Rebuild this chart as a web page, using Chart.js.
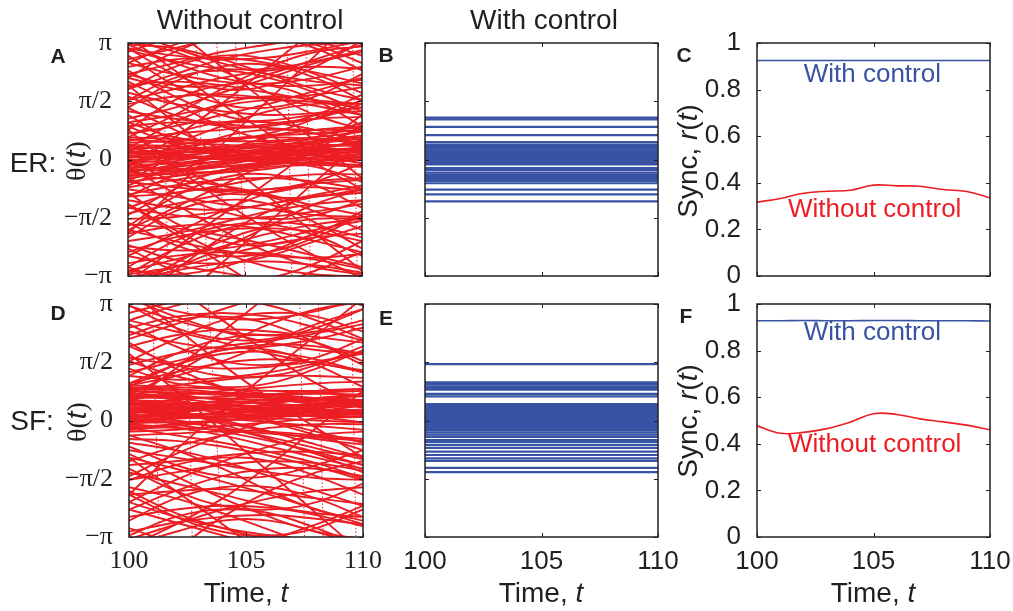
<!DOCTYPE html>
<html>
<head>
<meta charset="utf-8">
<script src="https://cdn.jsdelivr.net/npm/chart.js@4.4.1/dist/chart.umd.min.js"></script>
<style>
  html, body { margin: 0; padding: 0; background: #fff; }
  #wrap { position: relative; width: 1013px; height: 611px; overflow: hidden;
          font-family: "Liberation Sans", Arial, sans-serif; color: #231f20; }
  canvas { position: absolute; left: 0; top: 0; }
  .lbl { position: absolute; white-space: nowrap; line-height: 1; transform: translate(-50%, -50%); }
  .rot { transform: translate(-50%, -50%) rotate(-90deg); }
  .big { font-size: 28px; }
  .panel { font-size: 21px; font-weight: bold; }
  .serif { font-family: "Liberation Serif", "Times New Roman", serif; }
</style>
</head>
<body>
<div id="wrap">
  <canvas id="cA" width="1013" height="611"></canvas>
  <canvas id="cB" width="1013" height="611"></canvas>
  <canvas id="cC" width="1013" height="611"></canvas>
  <canvas id="cD" width="1013" height="611"></canvas>
  <canvas id="cE" width="1013" height="611"></canvas>
  <canvas id="cF" width="1013" height="611"></canvas>

  <div class="lbl big" style="left:250px;top:20px">Without control</div>
  <div class="lbl big" style="left:544px;top:20px">With control</div>

  <div class="lbl panel" style="left:58px;top:55px">A</div>
  <div class="lbl panel" style="left:386px;top:54px">B</div>
  <div class="lbl panel" style="left:684px;top:54px">C</div>
  <div class="lbl panel" style="left:58px;top:312px">D</div>
  <div class="lbl panel" style="left:386px;top:317px">E</div>
  <div class="lbl panel" style="left:686px;top:315px">F</div>

  <div class="lbl big" style="left:33px;top:163px">ER:</div>
  <div class="lbl big" style="left:32px;top:421px">SF:</div>
  <div class="lbl big rot" style="left:76px;top:161px"><span class="serif">θ(</span><i>t</i><span class="serif">)</span></div>
  <div class="lbl big rot" style="left:77px;top:422px"><span class="serif">θ(</span><i>t</i><span class="serif">)</span></div>
  <div class="lbl big rot" style="left:688px;top:161px">Sync, <i>r</i>(<i>t</i>)</div>
  <div class="lbl big rot" style="left:688px;top:421px">Sync, <i>r</i>(<i>t</i>)</div>

  <div class="lbl big" style="left:246px;top:593px">Time, <i>t</i></div>
  <div class="lbl big" style="left:541px;top:593px">Time, <i>t</i></div>
  <div class="lbl big" style="left:873px;top:593px">Time, <i>t</i></div>
</div>

<script>
// sample times of the phase trajectories (A, D) and of the sync curves (C, F)
const phaseT = [100, 102, 104, 106, 108, 110];
const syncT = [100, 101, 102, 103, 104, 105, 106, 107, 108, 109, 110];

// ER network, no control: theta(t) of each oscillator
const erPhases = [
  [-0.10, 0.00, 0.10, 0.20, 0.25, 0.30],
  [0.05, 0.10, 0.20, 0.25, 0.35, 0.40],
  [-0.30, -0.20, -0.05, 0.10, 0.20, 0.25],
  [0.20, 0.25, 0.30, 0.40, 0.45, 0.55],
  [-0.15, -0.10, 0.05, 0.15, 0.10, 0.05],
  [0.10, 0.05, 0.10, 0.20, 0.30, 0.45],
  [-0.45, -0.30, -0.10, 0.05, 0.15, 0.20],
  [0.35, 0.30, 0.35, 0.45, 0.55, 0.60],
  [-0.05, 0.15, 0.30, 0.35, 0.30, 0.20],
  [0.00, -0.10, -0.05, 0.10, 0.30, 0.50],
  [-0.25, -0.05, 0.15, 0.30, 0.40, 0.35],
  [0.15, 0.20, 0.15, 0.05, 0.05, 0.15],
  [-0.60, -0.45, -0.30, -0.10, 0.00, 0.05],
  [0.45, 0.50, 0.55, 0.65, 0.70, 0.80],
  [-0.35, -0.40, -0.30, -0.15, -0.05, 0.00],
  [0.25, 0.40, 0.55, 0.60, 0.55, 0.45],
  [-0.20, -0.25, -0.20, -0.05, 0.15, 0.35],
  [0.60, 0.55, 0.50, 0.50, 0.60, 0.75],
  [-0.75, -0.55, -0.35, -0.20, -0.15, -0.20],
  [0.05, 0.30, 0.50, 0.65, 0.80, 0.90],
  [-0.10, -0.30, -0.35, -0.25, -0.05, 0.10],
  [0.30, 0.15, 0.05, 0.10, 0.25, 0.30],
  [0.10, 0.20, 0.25, 0.35, 0.50, 0.65],
  [-0.50, -0.35, -0.20, -0.10, -0.10, -0.15],
  [0.40, 0.35, 0.25, 0.20, 0.15, 0.20],
  [-0.05, 0.05, 0.05, 0.00, 0.05, 0.15],
  [0.20, 0.10, 0.00, -0.05, 0.05, 0.25],
  [-0.35, -0.15, 0.05, 0.25, 0.45, 0.60],
  [0.55, 0.45, 0.40, 0.30, 0.25, 0.30],
  [-0.25, -0.30, -0.15, 0.05, 0.20, 0.30],
  [1.00, 1.20, 1.45, 1.60, 1.55, 1.40],
  [1.60, 1.90, 2.20, 2.40, 2.50, 2.45],
  [2.30, 2.60, 2.90, 3.10, 3.30, 3.50],
  [3.00, 2.80, 2.70, 2.75, 2.95, 3.20],
  [2.60, 2.30, 2.10, 2.05, 2.20, 2.50],
  [1.30, 1.10, 1.00, 1.05, 1.20, 1.30],
  [0.90, 1.00, 0.95, 0.85, 0.80, 0.85],
  [2.00, 2.10, 2.00, 1.80, 1.60, 1.50],
  [1.80, 1.50, 1.30, 1.20, 1.25, 1.40],
  [2.70, 3.00, 3.30, 3.60, 3.90, 4.20],
  [0.70, 0.90, 1.20, 1.50, 1.85, 2.20],
  [1.10, 1.40, 1.80, 2.20, 2.60, 2.90],
  [2.20, 1.90, 1.70, 1.65, 1.75, 1.95],
  [3.10, 2.60, 2.20, 2.00, 2.00, 2.15],
  [1.50, 1.70, 1.75, 1.65, 1.45, 1.20],
  [2.50, 2.70, 2.75, 2.60, 2.35, 2.05],
  [0.50, 0.70, 0.80, 0.95, 1.10, 1.15],
  [1.90, 2.30, 2.70, 2.95, 3.10, 3.15],
  [2.95, 2.65, 2.45, 2.45, 2.65, 2.95],
  [-1.00, -0.90, -0.70, -0.50, -0.40, -0.40],
  [-1.60, -1.55, -1.40, -1.20, -1.00, -0.90],
  [-2.20, -2.00, -1.70, -1.40, -1.20, -1.10],
  [-1.30, -1.50, -1.60, -1.55, -1.40, -1.20],
  [-2.80, -2.60, -2.50, -2.55, -2.70, -2.95],
  [-0.80, -1.00, -1.20, -1.35, -1.50, -1.55],
  [-2.50, -2.10, -1.90, -1.85, -1.95, -2.20],
  [-3.10, -2.90, -2.60, -2.30, -2.10, -2.00],
  [-1.90, -2.20, -2.45, -2.60, -2.65, -2.55],
  [-0.60, -0.75, -0.85, -0.80, -0.65, -0.55],
  [-1.45, -1.20, -0.95, -0.80, -0.75, -0.85],
  [-2.00, -1.80, -1.75, -1.90, -2.20, -2.50],
  [-2.60, -2.85, -3.05, -3.25, -3.40, -3.50],
  [-1.10, -1.30, -1.35, -1.20, -0.95, -0.70],
  [-3.00, -2.70, -2.35, -2.00, -1.75, -1.60],
  [-0.95, -0.70, -0.55, -0.50, -0.60, -0.80],
  [-2.35, -2.45, -2.40, -2.20, -1.90, -1.65],
  [-1.75, -1.85, -2.05, -2.30, -2.60, -2.90],
  [-0.40, -0.55, -0.70, -0.95, -1.25, -1.50],
  [-3.30, -3.00, -2.80, -2.75, -2.85, -3.05],
  [-3.30, -2.40, -1.50, -0.60, 0.30, 1.20],
  [3.30, 2.40, 1.50, 0.70, -0.10, -0.80],
  [-2.00, -0.80, 0.40, 1.60, 2.80, 4.00],
  [-5.00, -3.90, -2.80, -1.70, -0.60, 0.50],
  [2.00, 1.00, 0.00, -1.00, -2.00, -3.00],
  [-1.20, -2.00, -2.80, -3.60, -4.40, -5.20],
  [0.80, -0.20, -1.10, -1.90, -2.60, -3.20],
  [-3.60, -2.80, -2.20, -1.80, -1.60, -1.60],
  [3.50, 3.00, 2.60, 2.30, 2.10, 2.00],
  [-0.20, 0.60, 1.50, 2.50, 3.50, 4.50],
  [4.50, 3.50, 2.50, 1.50, 0.50, -0.50],
  [-4.00, -3.00, -2.10, -1.40, -1.00, -0.90],
  [1.40, 2.10, 2.50, 2.55, 2.20, 1.60],
  [-1.80, -1.00, -0.50, -0.40, -0.70, -1.30],
  [2.80, 2.00, 1.50, 1.40, 1.70, 2.30],
  [-0.90, -1.70, -2.20, -2.30, -2.00, -1.40],
  [0.30, 1.00, 1.50, 1.70, 1.60, 1.20],
  [-2.90, -2.20, -1.80, -1.75, -2.05, -2.60],
  [2.20, 2.90, 3.30, 3.30, 3.00, 2.40],
  [-0.20, -0.90, -1.40, -1.60, -1.50, -1.10],
  [1.70, 1.20, 0.90, 0.90, 1.20, 1.75],
  [-2.40, -3.00, -3.30, -3.20, -2.80, -2.20],
  [0.80, 1.60, 2.00, 2.00, 1.60, 0.90],
  [-1.50, -0.80, -0.30, -0.10, -0.20, -0.60],
  [3.00, 2.30, 1.90, 2.00, 2.50, 3.20],
  [-0.60, 0.10, 0.60, 0.80, 0.70, 0.30],
  [1.20, 0.50, 0.10, 0.00, 0.30, 0.90],
  [-2.10, -1.40, -1.10, -1.20, -1.70, -2.40],
  [2.40, 1.70, 1.20, 1.00, 1.10, 1.50],
  [-3.10, -2.40, -1.90, -1.70, -1.80, -2.10],
  [0.60, 1.20, 1.90, 2.50, 2.90, 3.05],
  [-1.20, -1.90, -2.50, -2.90, -3.10, -3.15],
  [1.90, 2.50, 2.80, 2.70, 2.30, 1.80],
  [-0.30, 0.40, 0.90, 1.30, 1.50, 1.50],
  [2.60, 3.10, 3.40, 3.40, 3.20, 2.80],
  [-2.60, -2.00, -1.40, -0.90, -0.60, -0.50],
  [0.00, -0.60, -0.90, -0.90, -0.60, -0.10],
  [1.00, 0.60, 0.50, 0.70, 1.10, 1.60],
  [-1.00, -0.40, 0.20, 0.60, 0.80, 0.75],
  [2.10, 1.50, 0.90, 0.50, 0.30, 0.30],
  [-3.20, -2.90, -2.40, -1.80, -1.20, -0.80],
  [3.20, 2.90, 2.40, 1.80, 1.20, 0.80],
  [-1.70, -2.30, -2.60, -2.50, -2.10, -1.50],
  [0.40, -0.20, -0.70, -1.00, -1.00, -0.80],
  [1.60, 2.20, 2.40, 2.20, 1.80, 1.30],
  [-0.70, -0.20, 0.10, 0.20, 0.10, -0.10],
  [2.90, 3.30, 3.50, 3.40, 3.10, 2.60],
  [-2.90, -3.30, -3.50, -3.40, -3.00, -2.50],
  [0.90, 0.40, 0.20, 0.30, 0.60, 1.00],
  [-1.30, -0.90, -0.80, -1.00, -1.40, -1.90],
  [2.30, 2.00, 2.00, 2.30, 2.70, 3.10],
  [-2.30, -2.70, -2.80, -2.60, -2.20, -1.80],
  [0.20, 0.70, 1.00, 1.00, 0.80, 0.50],
  [-0.50, -1.20, -1.90, -2.50, -2.90, -3.10],
  [1.40, 0.80, 0.30, 0.00, -0.10, 0.00],
  [-1.90, -1.30, -0.70, -0.10, 0.40, 0.80],
  [3.10, 3.00, 2.70, 2.30, 1.90, 1.60],
  [-3.00, -3.10, -2.90, -2.50, -2.00, -1.50]
];

// SF network, no control: theta(t)
const sfPhases = [
  [0.60, 0.62, 0.58, 0.55, 0.60, 0.65],
  [0.40, 0.45, 0.50, 0.45, 0.40, 0.42],
  [0.20, 0.25, 0.30, 0.32, 0.30, 0.25],
  [0.00, 0.05, 0.10, 0.15, 0.12, 0.10],
  [-0.20, -0.10, 0.00, 0.05, 0.00, -0.05],
  [0.80, 0.75, 0.70, 0.70, 0.75, 0.80],
  [0.30, 0.20, 0.15, 0.20, 0.35, 0.50],
  [0.10, 0.20, 0.35, 0.40, 0.30, 0.15],
  [0.50, 0.40, 0.30, 0.20, 0.15, 0.10],
  [-0.10, 0.05, 0.25, 0.45, 0.60, 0.70],
  [0.70, 0.60, 0.45, 0.30, 0.20, 0.15],
  [-0.30, -0.25, -0.15, -0.05, 0.05, 0.10],
  [0.15, 0.10, 0.05, -0.05, -0.15, -0.25],
  [0.45, 0.55, 0.65, 0.70, 0.72, 0.70],
  [-0.05, -0.05, 0.00, 0.10, 0.25, 0.40],
  [0.25, 0.35, 0.40, 0.35, 0.25, 0.20],
  [0.55, 0.50, 0.40, 0.35, 0.40, 0.55],
  [0.35, 0.30, 0.30, 0.35, 0.45, 0.55],
  [-0.40, -0.35, -0.30, -0.35, -0.45, -0.55],
  [0.90, 0.85, 0.75, 0.65, 0.55, 0.50],
  [0.05, 0.15, 0.20, 0.25, 0.35, 0.45],
  [0.65, 0.70, 0.80, 0.90, 1.00, 1.05],
  [-0.15, -0.20, -0.25, -0.30, -0.40, -0.50],
  [0.75, 0.65, 0.60, 0.55, 0.50, 0.35],
  [0.20, 0.30, 0.45, 0.55, 0.60, 0.55],
  [-0.25, -0.15, 0.00, 0.15, 0.25, 0.30],
  [0.50, 0.45, 0.35, 0.25, 0.20, 0.25],
  [0.85, 0.80, 0.70, 0.60, 0.60, 0.70],
  [0.10, 0.00, -0.20, -0.45, -0.75, -1.05],
  [0.30, 0.20, 0.00, -0.30, -0.65, -1.00],
  [-0.10, -0.20, -0.40, -0.70, -1.00, -1.30],
  [0.00, -0.05, -0.20, -0.50, -0.90, -1.40],
  [0.40, 0.35, 0.20, -0.05, -0.40, -0.80],
  [-0.50, -0.55, -0.70, -0.95, -1.25, -1.60],
  [1.30, 1.60, 1.90, 2.05, 2.00, 1.80],
  [2.50, 2.80, 2.90, 2.80, 2.50, 2.15],
  [1.00, 1.30, 1.55, 1.65, 1.55, 1.30],
  [3.10, 2.70, 2.40, 2.30, 2.40, 2.70],
  [2.00, 2.30, 2.45, 2.40, 2.25, 2.10],
  [1.70, 1.50, 1.40, 1.45, 1.60, 1.80],
  [0.95, 1.20, 1.60, 2.10, 2.60, 3.00],
  [2.70, 2.40, 2.10, 1.80, 1.55, 1.35],
  [1.20, 1.10, 1.15, 1.30, 1.55, 1.85],
  [2.20, 2.60, 3.00, 3.40, 3.70, 3.90],
  [3.30, 2.95, 2.75, 2.75, 2.95, 3.30],
  [1.50, 1.80, 2.00, 2.15, 2.35, 2.60],
  [0.85, 0.95, 1.10, 1.20, 1.20, 1.15],
  [2.40, 2.10, 1.95, 2.00, 2.20, 2.50],
  [-1.20, -1.10, -0.95, -0.85, -0.85, -0.95],
  [-1.60, -1.40, -1.20, -1.10, -1.15, -1.35],
  [-2.00, -1.90, -1.85, -1.95, -2.10, -2.25],
  [-2.60, -2.40, -2.30, -2.35, -2.55, -2.85],
  [-0.80, -1.00, -1.20, -1.40, -1.55, -1.60],
  [-2.20, -2.60, -2.90, -3.10, -3.25, -3.30],
  [-1.40, -1.70, -2.00, -2.30, -2.50, -2.60],
  [-3.00, -2.75, -2.60, -2.55, -2.65, -2.80],
  [-1.00, -1.30, -1.65, -2.00, -2.40, -2.80],
  [-2.40, -2.75, -3.10, -3.45, -3.80, -4.10],
  [-1.80, -2.10, -2.50, -2.95, -3.40, -3.80],
  [-0.60, -0.80, -1.10, -1.50, -1.90, -2.30],
  [-3.20, -2.80, -2.40, -2.10, -1.90, -1.80],
  [-2.00, -0.80, 0.30, 1.30, 2.30, 3.30],
  [3.50, 2.50, 1.50, 0.60, -0.20, -1.00],
  [-3.40, -2.80, -2.10, -1.20, -0.20, 0.80],
  [1.80, 0.80, -0.30, -1.40, -2.50, -3.60],
  [-1.00, -1.90, -2.80, -3.70, -4.60, -5.50],
  [4.60, 3.60, 2.70, 1.80, 1.00, 0.40],
  [0.50, 1.40, 2.40, 3.40, 4.40, 5.40],
  [-4.50, -3.50, -2.60, -1.90, -1.40, -1.10],
  [1.20, 1.80, 2.20, 2.30, 2.10, 1.60],
  [2.60, 2.00, 1.60, 1.50, 1.70, 2.20],
  [0.90, 1.50, 1.90, 1.90, 1.50, 0.90],
  [3.10, 2.50, 2.20, 2.20, 2.50, 3.00],
  [1.60, 2.20, 2.70, 2.90, 2.80, 2.40],
  [2.00, 1.50, 1.20, 1.20, 1.50, 2.00],
  [0.70, 1.30, 2.00, 2.60, 3.00, 3.20],
  [2.90, 3.20, 3.30, 3.10, 2.70, 2.20],
  [1.40, 1.00, 0.90, 1.00, 1.40, 1.90],
  [2.30, 2.70, 2.80, 2.60, 2.10, 1.50],
  [-1.30, -1.90, -2.30, -2.40, -2.20, -1.70],
  [-2.70, -2.10, -1.80, -1.80, -2.10, -2.60],
  [-0.90, -1.50, -2.10, -2.60, -3.00, -3.20],
  [-2.00, -2.60, -3.00, -3.10, -2.90, -2.40],
  [-1.60, -1.20, -1.00, -1.10, -1.50, -2.00],
  [-3.10, -2.60, -2.40, -2.50, -2.90, -3.40],
  [-0.70, -1.20, -1.50, -1.50, -1.20, -0.80],
  [-2.40, -1.90, -1.50, -1.30, -1.30, -1.50],
  [-1.90, -2.50, -2.90, -3.20, -3.40, -3.50],
  [-2.90, -3.30, -3.40, -3.20, -2.80, -2.30],
  [0.60, 0.30, -0.10, -0.50, -0.90, -1.20],
  [0.50, 0.20, -0.05, -0.30, -0.50, -0.65],
  [0.20, -0.10, -0.30, -0.55, -0.85, -1.20],
  [-0.20, -0.40, -0.60, -0.85, -1.15, -1.55],
  [0.70, 0.55, 0.30, 0.00, -0.30, -0.60],
  [0.30, 0.40, 0.55, 0.70, 0.80, 0.85],
  [0.10, 0.25, 0.40, 0.50, 0.55, 0.55],
  [0.45, 0.35, 0.30, 0.30, 0.35, 0.40],
  [0.60, 0.70, 0.75, 0.70, 0.60, 0.50],
  [-0.05, 0.10, 0.20, 0.30, 0.40, 0.50],
  [0.95, 0.90, 0.85, 0.80, 0.80, 0.85],
  [0.25, 0.15, 0.10, 0.10, 0.15, 0.20],
  [0.80, 0.70, 0.55, 0.45, 0.40, 0.40],
  [0.00, 0.10, 0.20, 0.20, 0.10, -0.05],
  [-1.10, -0.70, -0.40, -0.20, -0.10, -0.10],
  [-1.50, -0.90, -0.40, 0.00, 0.30, 0.45],
  [1.60, 1.20, 0.90, 0.70, 0.55, 0.45],
  [2.10, 1.40, 0.90, 0.60, 0.45, 0.40],
  [-2.20, -1.60, -1.10, -0.70, -0.40, -0.30],
  [1.00, 1.50, 1.80, 1.85, 1.65, 1.30],
  [-0.40, -0.80, -1.30, -1.90, -2.40, -2.70],
  [2.70, 3.10, 3.40, 3.50, 3.40, 3.10],
  [-3.40, -3.00, -2.70, -2.70, -3.00, -3.40],
  [3.30, 2.80, 2.40, 2.10, 1.90, 1.80]
];

// wrap-around jumps (pi -> -pi) drawn dotted: [time at top, time at bottom]
const erWraps = [[101.5, 101.7], [102.9, 103.4], [103.8, 104.1], [104.6, 105.0], [106.8, 107.0], [107.6, 107.8], [109.6, 109.8]];
const sfWraps = [[101.0, 101.3], [102.5, 102.7], [103.4, 104.0], [107.3, 107.5], [108.1, 108.3], [109.5, 109.7]];

// phase-locked oscillators with control (B, E): one constant phase each
const erLocked = [1.13, 1.08, 0.88, 0.66, 0.47, 0.40, 0.36, 0.33, 0.29, 0.25, 0.21, 0.17,
  0.13, 0.09, 0.05, 0.01, -0.03, -0.07, -0.09, -0.13, -0.23, -0.28, -0.35, -0.40,
  -0.45, -0.50, -0.55, -0.58, -0.64, -0.81, -0.94, -1.13];
const sfLocked = [1.52, 1.03, 0.98, 0.92, 0.88, 0.83, 0.72, 0.65, 0.44, 0.39, 0.34, 0.28,
  0.24, 0.20, 0.16, 0.12, 0.08, 0.04, 0.00, -0.04, -0.08, -0.12, -0.17, -0.20, -0.26,
  -0.32, -0.38, -0.44, -0.53, -0.58, -0.66, -0.74, -0.84, -0.93, -1.02, -1.09, -1.28, -1.39];

// order parameter r(t) (C, F)
const erSyncOn = [0.925, 0.925, 0.925, 0.925, 0.925, 0.925, 0.925, 0.925, 0.925, 0.925, 0.925];
const erSyncOff = [0.317, 0.333, 0.355, 0.364, 0.368, 0.390, 0.387, 0.385, 0.371, 0.363, 0.336];
const sfSyncOn = [0.928, 0.928, 0.929, 0.928, 0.928, 0.929, 0.929, 0.928, 0.928, 0.928, 0.927];
const sfSyncOff = [0.477, 0.445, 0.449, 0.465, 0.493, 0.529, 0.526, 0.507, 0.494, 0.480, 0.460];

// ticks
const timeTicks = [100, 105, 110];
const phaseTicks = [-Math.PI, -Math.PI / 2, 0, Math.PI / 2, Math.PI];
const phaseTickLabels = ['−π', '−π/2', '0', 'π/2', 'π'];
const syncTicks = [0, 0.2, 0.4, 0.6, 0.8, 1];
const syncTickLabels = ['0', '0.2', '0.4', '0.6', '0.8', '1'];

const RED = 'rgb(236,30,36)';
const BLUE = 'rgb(57,83,164)';
const INK = '#231f20';
const SANS = '"Liberation Sans", Arial, sans-serif';
const SERIF = '"Liberation Serif", "Times New Roman", serif';

// plot boxes in page pixels
const boxes = {
  A: { l: 128, t: 43, r: 362, b: 276 },
  B: { l: 425, t: 43, r: 658, b: 276 },
  C: { l: 757, t: 43, r: 990, b: 276 },
  D: { l: 129, t: 304, r: 363, b: 537 },
  E: { l: 425, t: 304, r: 658, b: 537 },
  F: { l: 757, t: 304, r: 990, b: 537 }
};

// MATLAB style frame with inward ticks
const boxTicks = {
  id: 'boxTicks',
  afterDatasetsDraw(chart) {
    const { ctx, chartArea: a, scales: { x, y } } = chart;
    ctx.save();
    ctx.strokeStyle = INK;
    ctx.lineWidth = 1;
    ctx.beginPath();
    x.ticks.forEach(t => {
      const px = Math.round(x.getPixelForValue(t.value)) + 0.5;
      ctx.moveTo(px, a.bottom); ctx.lineTo(px, a.bottom - 4);
      ctx.moveTo(px, a.top); ctx.lineTo(px, a.top + 4);
    });
    y.ticks.forEach(t => {
      const py = Math.round(y.getPixelForValue(t.value)) + 0.5;
      ctx.moveTo(a.left, py); ctx.lineTo(a.left + 4, py);
      ctx.moveTo(a.right, py); ctx.lineTo(a.right - 4, py);
    });
    ctx.stroke();
    ctx.lineWidth = 1.5;
    ctx.strokeRect(a.left, a.top, a.right - a.left, a.bottom - a.top);
    ctx.restore();
  }
};

// text labels placed at data coordinates
const curveLabels = {
  id: 'curveLabels',
  afterDatasetsDraw(chart, args, opts) {
    if (!opts.items) return;
    const { ctx, scales: { x, y } } = chart;
    ctx.save();
    ctx.font = '26px ' + SANS;
    ctx.textAlign = 'center';
    ctx.textBaseline = 'middle';
    opts.items.forEach(it => {
      ctx.fillStyle = it.color;
      ctx.fillText(it.text, x.getPixelForValue(it.x), y.getPixelForValue(it.y));
    });
    ctx.restore();
  }
};

function makeChart(id, box, cfg) {
  new Chart(document.getElementById(id), {
    type: 'line',
    data: { datasets: cfg.datasets },
    options: {
      responsive: false,
      animation: false,
      events: [],
      layout: { padding: { left: 0, top: box.t, right: 1013 - box.r, bottom: 0 } },
      plugins: {
        legend: { display: false },
        tooltip: { enabled: false },
        curveLabels: { items: cfg.labels || null }
      },
      scales: {
        x: {
          type: 'linear', min: 100, max: 110,
          afterBuildTicks: s => { s.ticks = timeTicks.map(v => ({ value: v })); },
          ticks: {
            display: cfg.showX, autoSkip: false, maxRotation: 0, padding: 1,
            color: INK, font: { family: cfg.xSerif ? SERIF : SANS, size: 26 },
            callback: v => String(v)
          },
          grid: { display: false },
          border: { display: false },
          afterFit: s => {
            s.height = 611 - box.b;
            s.paddingLeft = 0; s.paddingRight = 0; s.paddingTop = 0; s.paddingBottom = 0;
          }
        },
        y: {
          type: 'linear', min: cfg.yMin, max: cfg.yMax,
          afterBuildTicks: s => { s.ticks = cfg.yTicks.map(v => ({ value: v })); },
          ticks: {
            display: cfg.showY, autoSkip: false, padding: 8,
            color: INK, font: { family: cfg.ySerif ? SERIF : SANS, size: 26 },
            callback: (v, i) => cfg.yLabels[i]
          },
          grid: { display: false },
          border: { display: false },
          afterFit: s => {
            s.width = box.l;
            s.paddingLeft = 0; s.paddingRight = 0; s.paddingTop = 0; s.paddingBottom = 0;
          }
        }
      }
    },
    plugins: [boxTicks, curveLabels]
  });
}

function phaseSets(rows, wraps) {
  const jumps = wraps.map(w => ({
    data: [{ x: w[0], y: Math.PI }, { x: w[1], y: -Math.PI }],
    borderColor: RED, borderWidth: 1, borderDash: [1.5, 2], pointRadius: 0, fill: false
  }));
  return jumps.concat(rows.map(row => ({
    data: phaseT.map((t, i) => ({ x: t, y: row[i] })),
    borderColor: RED, borderWidth: 1.9, pointRadius: 0, tension: 0.4, fill: false
  })));
}
function lockedSets(vals) {
  return vals.map(v => ({
    data: [{ x: 100, y: v }, { x: 110, y: v }],
    borderColor: BLUE, borderWidth: 2.2, pointRadius: 0, fill: false
  }));
}
function syncSets(on, off) {
  return [
    { data: syncT.map((t, i) => ({ x: t, y: on[i] })), borderColor: BLUE, borderWidth: 1.6, pointRadius: 0, tension: 0.4 },
    { data: syncT.map((t, i) => ({ x: t, y: off[i] })), borderColor: RED, borderWidth: 1.6, pointRadius: 0, tension: 0.4 }
  ];
}

const phaseAxis = { yMin: -Math.PI, yMax: Math.PI, yTicks: phaseTicks, yLabels: phaseTickLabels };
const syncAxis = { yMin: 0, yMax: 1, yTicks: syncTicks, yLabels: syncTickLabels };

makeChart('cA', boxes.A, Object.assign({ datasets: phaseSets(erPhases, erWraps), showX: false, showY: true, ySerif: true }, phaseAxis));
makeChart('cB', boxes.B, Object.assign({ datasets: lockedSets(erLocked), showX: false, showY: false }, phaseAxis));
makeChart('cC', boxes.C, Object.assign({
  datasets: syncSets(erSyncOn, erSyncOff), showX: false, showY: true,
  labels: [
    { text: 'With control', x: 104.95, y: 0.863, color: BLUE },
    { text: 'Without control', x: 105.05, y: 0.282, color: RED }
  ]
}, syncAxis));
makeChart('cD', boxes.D, Object.assign({ datasets: phaseSets(sfPhases, sfWraps), showX: true, xSerif: true, showY: true, ySerif: true }, phaseAxis));
makeChart('cE', boxes.E, Object.assign({ datasets: lockedSets(sfLocked), showX: true, showY: false }, phaseAxis));
makeChart('cF', boxes.F, Object.assign({
  datasets: syncSets(sfSyncOn, sfSyncOff), showX: true, showY: true,
  labels: [
    { text: 'With control', x: 104.95, y: 0.876, color: BLUE },
    { text: 'Without control', x: 105.05, y: 0.396, color: RED }
  ]
}, syncAxis));
</script>
</body>
</html>
